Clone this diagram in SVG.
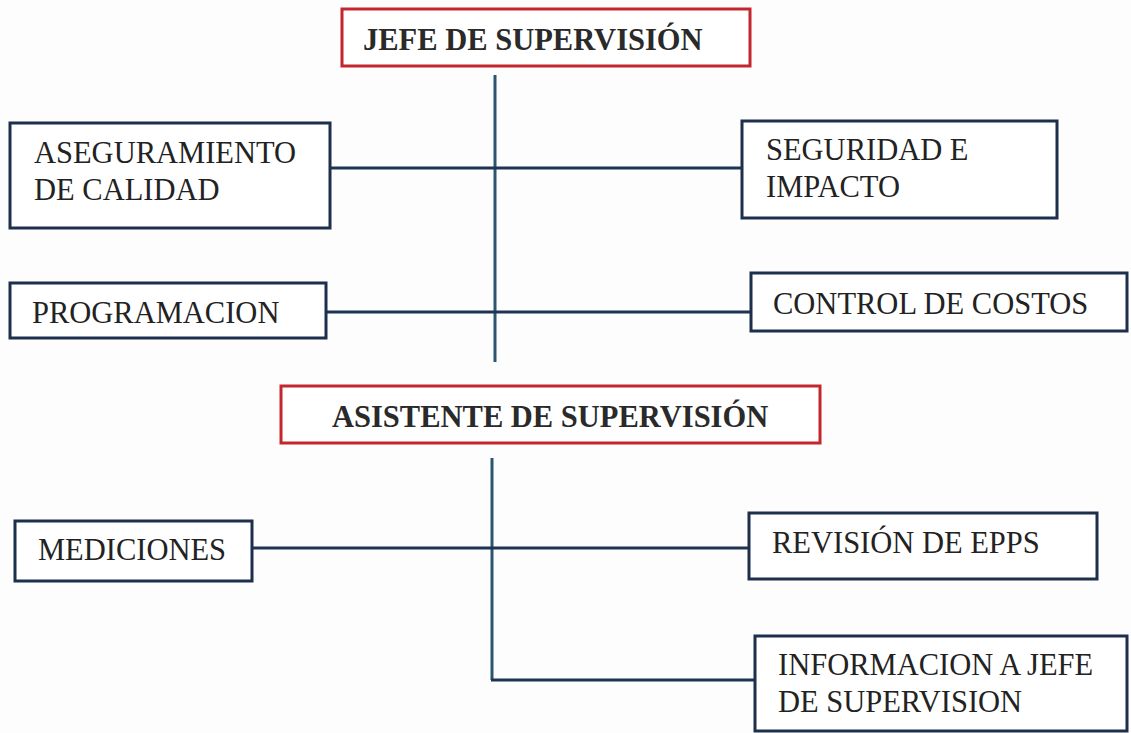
<svg xmlns="http://www.w3.org/2000/svg" width="1131" height="733" viewBox="0 0 1131 733">
<style>
.bg{fill:#fdfdfd}
.box{fill:#ffffff;stroke:#1d2f4c;stroke-width:3}
.head{fill:#ffffff;stroke:#c3262d;stroke-width:3}
.t{font-size:30.5px;fill:#222222}
.tb{font-size:30.5px;font-weight:bold;fill:#2a2a2a}
.ln{fill:none;stroke:#1f3452;stroke-width:3}
.vl{fill:none;stroke:#2a5670;stroke-width:3}
</style>
<rect class="bg" x="0" y="0" width="1131" height="733"/>
<g id="connectors">
<line class="vl" x1="495" y1="75" x2="495" y2="362"/>
<line class="ln" x1="330" y1="168" x2="742" y2="168"/>
<line class="ln" x1="326" y1="312" x2="750" y2="312"/>
<path class="vl" d="M492 458 V680"/>
<line class="ln" x1="252" y1="548" x2="749" y2="548"/>
<line class="ln" x1="491" y1="680" x2="755" y2="680"/>
</g>
<g font-family="Liberation Serif, Tinos, DejaVu Serif, serif">
<g id="jefe">
<rect class="head" x="342" y="9" width="408" height="57"/>
<text class="tb" x="363" y="50">JEFE DE SUPERVISIÓN</text>
</g>
<g id="aseguramiento">
<rect class="box" x="10" y="123" width="320" height="105"/>
<text class="t" x="34" y="163">ASEGURAMIENTO</text>
<text class="t" x="34" y="200">DE CALIDAD</text>
</g>
<g id="seguridad">
<rect class="box" x="742" y="121" width="315" height="97"/>
<text class="t" x="766" y="160">SEGURIDAD E</text>
<text class="t" x="766" y="197">IMPACTO</text>
</g>
<g id="programacion">
<rect class="box" x="10" y="283" width="316" height="55"/>
<text class="t" x="32" y="323">PROGRAMACION</text>
</g>
<g id="control">
<rect class="box" x="751" y="273" width="376" height="58"/>
<text class="t" x="773" y="314">CONTROL DE COSTOS</text>
</g>
<g id="asistente">
<rect class="head" x="281" y="386" width="539" height="57"/>
<text class="tb" x="332" y="427">ASISTENTE DE SUPERVISIÓN</text>
</g>
<g id="mediciones">
<rect class="box" x="15" y="521" width="237" height="60"/>
<text class="t" x="38" y="560">MEDICIONES</text>
</g>
<g id="revision">
<rect class="box" x="749" y="513" width="348" height="66"/>
<text class="t" x="772" y="553">REVISIÓN DE EPPS</text>
</g>
<g id="informacion">
<rect class="box" x="755" y="636" width="372" height="95"/>
<text class="t" x="778" y="675">INFORMACION A JEFE</text>
<text class="t" x="778" y="712">DE SUPERVISION</text>
</g>
</g>
</svg>
